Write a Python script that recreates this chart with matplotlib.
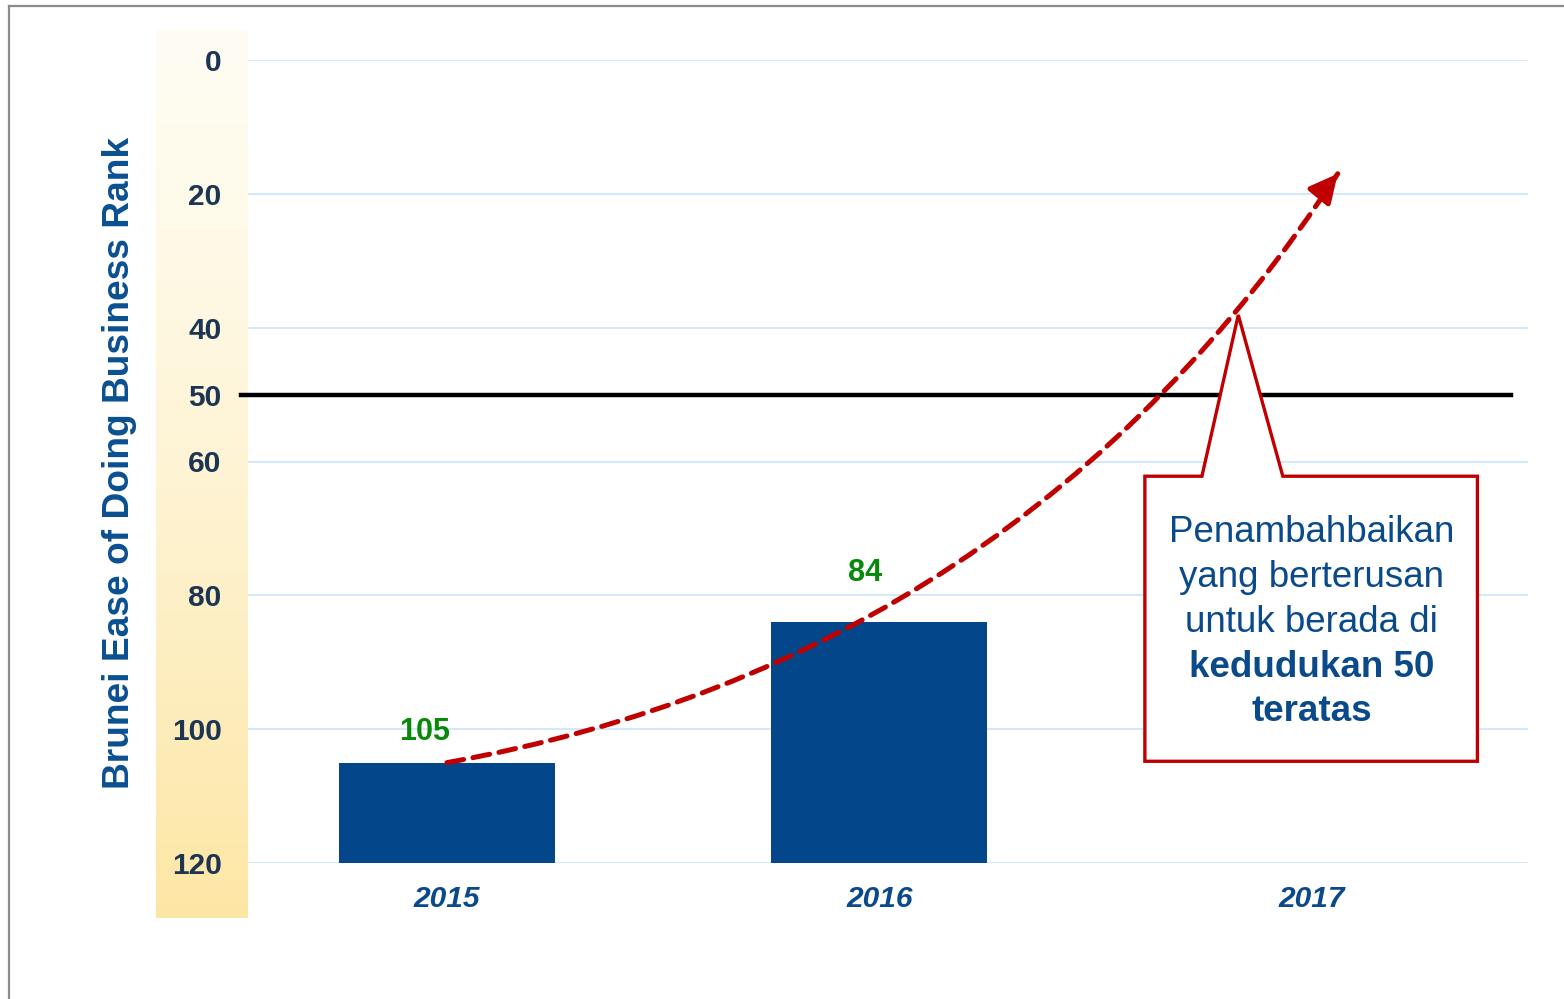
import numpy as np
import matplotlib
matplotlib.use("Agg")
import matplotlib.pyplot as plt
from matplotlib.patches import Polygon
from matplotlib.lines import Line2D

plt.rcParams['font.family'] = ['Liberation Sans', 'DejaVu Sans']

# -------------------------------
# DATA
# -------------------------------
years = ["2015", "2016", "2017"]
ranks = [105, 84]              # 2017 has no bar yet
rank_floor = 120
target_rank = 50
y_ticks = [0, 20, 40, 50, 60, 80, 100, 120]
grid_ranks = [0, 20, 40, 60, 80, 100, 120]
arrow_end = (2.06, 17)         # where the dashed trend arrow points
callout_lines = ["Penambahbaikan", "yang berterusan", "untuk berada di",
                 "kedudukan 50", "teratas"]
callout_bold = [False, False, False, True, True]

navy = "#03468a"
text_blue = "#0b4a8a"
red = "#c00000"
green = "#078a07"

# -------------------------------
# FIGURE
# -------------------------------
W, H = 1564, 999
fig = plt.figure(figsize=(W / 100, H / 100), dpi=100)

# yellow gradient band behind the tick labels
band = fig.add_axes([156 / W, 1 - 918 / H, 92 / W, 888 / H])
grad = np.linspace(0, 1, 256).reshape(-1, 1)
top_c = np.array([1.0, 0.992, 0.953])
bot_c = np.array([0.992, 0.902, 0.647])
img = top_c + (bot_c - top_c) * grad[:, :, None] ** 1.3
band.imshow(img, aspect="auto", extent=[0, 1, 1, 0])
band.set_axis_off()

# outer gray frame (top and left)
fig.add_artist(Line2D([9 / W, 1], [1 - 6 / H, 1 - 6 / H], color="#8c8c8c", lw=1.6))
fig.add_artist(Line2D([9 / W, 9 / W], [0, 1 - 6 / H], color="#8c8c8c", lw=1.6))

ax = fig.add_axes([248 / W, 1 - 863 / H, 1280 / W, 803 / H])
ax.patch.set_alpha(0)
x = np.arange(len(ranks))

for g in grid_ranks:
    ax.axhline(g, color="#cfe6fa", lw=1.3, zorder=0)

ax.bar(x, [rank_floor - r for r in ranks], bottom=ranks, width=0.5,
       color=navy, zorder=2)

ax.set_xlim(-0.46, 2.5)
ax.set_ylim(rank_floor, 0)

# value labels
label_offsets = [(-22, 31), (-14, 49)]
for xi, r, off in zip(x, ranks, label_offsets):
    ax.annotate(str(r), (xi, r), xytext=(off[0] * 0.72, off[1] * 0.72),
                textcoords="offset points", ha="center", va="center",
                color=green, fontsize=22, fontweight="bold", zorder=5)

# target line at rank 50
ax.plot([-0.476, 2.46], [target_rank, target_rank], color="black", lw=3.2,
        clip_on=False, zorder=3)

# dashed trend arrow
ax.annotate("", xy=arrow_end, xytext=(0, ranks[0]),
            arrowprops=dict(arrowstyle="-", connectionstyle="arc3,rad=0.215",
                            color=red, lw=3.6, linestyle=(0, (3.4, 1.9)),
                            shrinkA=0, shrinkB=0),
            zorder=6)
# solid head on top of the dashed shaft
ax.annotate("", xy=arrow_end, xytext=(arrow_end[0] - 0.037, arrow_end[1] + 2.9),
            arrowprops=dict(arrowstyle="-|>,head_length=1.0,head_width=0.5",
                            color=red, lw=3.6, mutation_scale=17,
                            shrinkA=0, shrinkB=0),
            zorder=6)

# callout box with pointer
box = [(1.614, 62.2), (1.746, 62.2), (1.83, 38.1), (1.933, 62.2),
       (2.383, 62.2), (2.383, 104.8), (1.614, 104.8)]
ax.add_patch(Polygon(box, closed=True, facecolor="white", edgecolor=red,
                     lw=2.4, zorder=7, clip_on=False, joinstyle="miter"))
line_y = [70.6, 77.3, 84.0, 90.8, 97.4]
for txt, bold, ly in zip(callout_lines, callout_bold, line_y):
    ax.text(2.0, ly, txt, ha="center", va="center", fontsize=26.5,
            color=text_blue, fontweight="bold" if bold else "normal", zorder=8)

# axes styling
ax.set_yticks(y_ticks)
ax.set_yticklabels([str(t) for t in y_ticks])
ax.set_xticks(range(len(years)))
ax.set_xticklabels(years)
ax.tick_params(axis="y", length=0, pad=19, labelsize=21.5, labelcolor="#1c3553")
ax.tick_params(axis="x", length=0, pad=16, labelsize=21.5, labelcolor=text_blue)
for lbl in ax.get_yticklabels():
    lbl.set_fontweight("bold")
for lbl in ax.get_xticklabels():
    lbl.set_fontweight("bold")
    lbl.set_fontstyle("italic")
for s in ax.spines.values():
    s.set_visible(False)

fig.text(120 / W, 1 - 463 / H, "Brunei Ease of Doing Business Rank",
         rotation=90, ha="center", va="center", fontsize=26.7,
         fontweight="bold", color="#0a4f90")

fig.savefig("out.png", dpi=100)
